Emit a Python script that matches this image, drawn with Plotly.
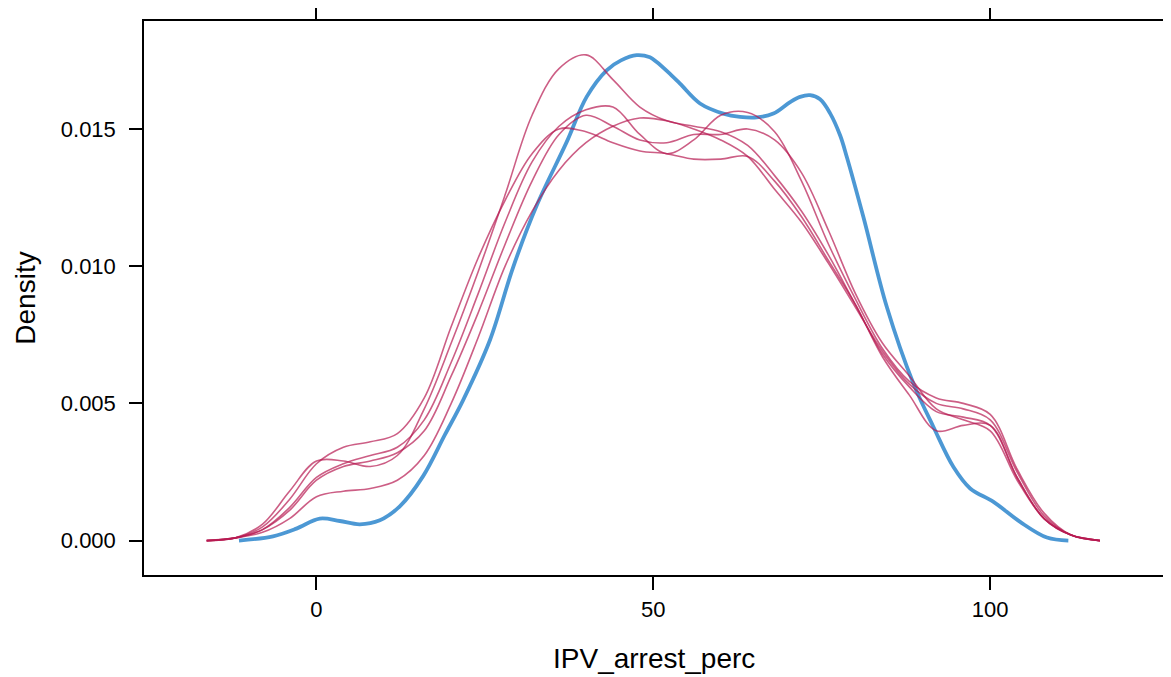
import plotly.graph_objects as go

# Observed density (blue)
x_obs = [-11.5, -6.45, -2.97, 0.49, 3.46, 6.43, 9.4, 12.37, 15.83, 19.05, 21.77, 25.74, 29.2,
         32.67, 37.13, 40.1, 43.07, 45.2, 47.53, 49.5, 50.5, 52.2, 53.96, 56.93, 60.39, 62.86,
         65.35, 67.82, 70.3, 71.78, 73.27, 74.75, 76.24, 77.72, 78.72, 81.18, 84.66, 88.61,
         91.58, 94.55, 97.03, 100.49, 104.45, 108.42, 111.6]
dens_obs = [0, 0.000157, 0.000437, 0.000802, 0.000714, 0.000594, 0.00074, 0.00125, 0.00235,
            0.00385, 0.00512, 0.0073, 0.00997, 0.0122, 0.01452, 0.01617, 0.01714, 0.0175,
            0.01769, 0.01761, 0.01744, 0.01707, 0.01665, 0.01593, 0.01556, 0.01544, 0.01542,
            0.01556, 0.01598, 0.01617, 0.01623, 0.01608, 0.01557, 0.01477, 0.01398, 0.01179,
            0.00851, 0.00572, 0.00414, 0.00268, 0.0019, 0.00141, 0.00068, 0.00011, 0]

# Imputed densities (red), five imputations on a common grid
x_imp = [-16.3, -12, -8, -4, 0, 4, 8, 12, 16, 20, 24, 28, 32, 36, 40, 44, 48, 52, 56, 60,
         64, 68, 72, 76, 80, 84, 88, 92, 96, 100, 104, 108, 112, 116.3]
dens_imp_1 = [0, 0.0001, 0.0006, 0.0018, 0.0029, 0.0029, 0.0027, 0.0031, 0.0048, 0.0072,
              0.0098, 0.0126, 0.0155, 0.0172, 0.0177, 0.0168, 0.0158, 0.0153, 0.0151, 0.0149,
              0.0144, 0.0133, 0.0120, 0.0104, 0.0086, 0.0068, 0.0056, 0.0047, 0.0045, 0.0042,
              0.0023, 0.0008, 0.0002, 0]
dens_imp_2 = [0, 0.0001, 0.0004, 0.0012, 0.0023, 0.0028, 0.0031, 0.0034, 0.0044, 0.0065,
              0.0090, 0.0116, 0.0138, 0.0151, 0.0157, 0.0158, 0.0148, 0.0141, 0.0146, 0.0155,
              0.0156, 0.0149, 0.0131, 0.0108, 0.0088, 0.0070, 0.0058, 0.0052, 0.0050, 0.0046,
              0.0026, 0.0010, 0.0002, 0]
dens_imp_3 = [0, 0.0001, 0.0004, 0.0011, 0.0022, 0.0027, 0.0029, 0.0032, 0.0040, 0.0060,
              0.0083, 0.0108, 0.0131, 0.0148, 0.0155, 0.0151, 0.0146, 0.0145, 0.0148, 0.0148,
              0.0150, 0.0146, 0.0134, 0.0113, 0.0090, 0.0072, 0.0060, 0.0048, 0.0044, 0.0040,
              0.0022, 0.0008, 0.0002, 0]
dens_imp_4 = [0, 0.0001, 0.0005, 0.0015, 0.0028, 0.0034, 0.0036, 0.0039, 0.0052, 0.0078,
              0.0103, 0.0124, 0.0141, 0.0150, 0.0149, 0.0145, 0.0142, 0.0141, 0.0139, 0.0139,
              0.0140, 0.0131, 0.0118, 0.0102, 0.0086, 0.0067, 0.0053, 0.0040, 0.0042, 0.0042,
              0.0023, 0.0008, 0.0002, 0]
dens_imp_5 = [0, 0.0001, 0.0003, 0.0008, 0.0016, 0.0018, 0.0019, 0.0022, 0.0031, 0.0050,
              0.0074, 0.0100, 0.0120, 0.0135, 0.0145, 0.0151, 0.0154, 0.0153, 0.0150, 0.0146,
              0.0140, 0.0128, 0.0116, 0.0101, 0.0085, 0.0069, 0.0057, 0.0050, 0.0048, 0.0044,
              0.0025, 0.0009, 0.0002, 0]

x_ticks = [0, 50, 100]
y_ticks = [0, 0.005, 0.010, 0.015]
y_tick_labels = ["0.000", "0.005", "0.010", "0.015"]

BLUE = "rgba(0,108,194,0.7)"
RED = "rgba(182,26,81,0.7)"
FONT = "Liberation Sans, Arial, sans-serif"

fig = go.Figure()
fig.add_trace(go.Scatter(x=x_obs, y=dens_obs, mode="lines",
                         line=dict(color=BLUE, width=3.8, shape="spline"),
                         hoverinfo="skip"))
for d in [dens_imp_1, dens_imp_2, dens_imp_3, dens_imp_4, dens_imp_5]:
    fig.add_trace(go.Scatter(x=x_imp, y=d, mode="lines",
                             line=dict(color=RED, width=1.6, shape="spline"),
                             hoverinfo="skip"))

axis_common = dict(showgrid=False, zeroline=False, showline=True, linecolor="black",
                   linewidth=1.5, mirror="ticks", ticks="outside", ticklen=13,
                   tickwidth=1.5, tickcolor="black", automargin=False,
                   tickfont=dict(family=FONT, size=22, color="black"))

# The page body has an 8px default margin, so the figure is offset by (8, 8).
fig.update_layout(
    width=1163, height=669,
    margin=dict(l=136.3, r=8.3, t=12.7, b=102.3, autoexpand=False),
    plot_bgcolor="white", paper_bgcolor="white",
    showlegend=False,
    font=dict(family=FONT, color="black"),
    xaxis=dict(range=[-25.6, 125.65], tickvals=x_ticks, ticklabelstandoff=1,
               **axis_common),
    yaxis=dict(range=[-0.001254, 0.018935], tickvals=y_ticks, ticktext=y_tick_labels,
               ticklabelstandoff=9, **axis_common),
    annotations=[
        dict(text="IPV_arrest_perc", xref="paper", yref="paper", x=0.5, y=-0.1504,
             xanchor="center", yanchor="middle", showarrow=False,
             font=dict(family=FONT, size=28, color="black")),
        dict(text="Density", xref="paper", yref="paper", x=-0.1171, y=0.5,
             xanchor="center", yanchor="middle", showarrow=False, textangle=-90,
             font=dict(family=FONT, size=28, color="black")),
    ],
)

fig.write_html("out.html")
